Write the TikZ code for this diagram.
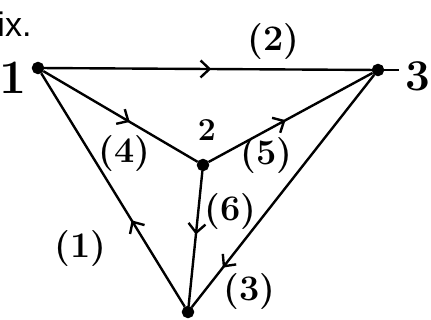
\documentclass[tikz,border=0pt]{standalone}
\usepackage{fontspec}
\newfontfamily\printfont{Liberation Sans}
\usetikzlibrary{arrows.meta,decorations.markings}

\begin{document}
\begin{tikzpicture}[x=1pt, y=-1pt, line width=2.4pt,
    main/.style = {draw, circle, fill, inner sep=0pt, minimum size=10pt},
    lbl/.style = {font=\bfseries\fontsize{36}{38}\selectfont, inner sep=1pt},
    mid/.style = {postaction={decorate}, decoration={markings,
        mark=at position #1 with {\arrow{Straight Barb[length=9pt, width=17pt]}}}}]

    \useasboundingbox (0,0) rectangle (431,320);

    \node[anchor=base east, font=\printfont\fontsize{34}{36}\selectfont] (title) at (36,37) {ix.};

    \node[main] (1) at (38,68) {};
    \node[main] (2) at (203,165) {};
    \node[main] (3) at (378,70) {};
    \node[main] (4) at (188,312) {};
    \coordinate (t3) at (399,70);

    \node[font=\bfseries\fontsize{48}{50}\selectfont] (l1) at (13,78) {1};
    \node[font=\bfseries\fontsize{44}{46}\selectfont] (l3) at (418,76) {3};
    \node[font=\bfseries\fontsize{32}{34}\selectfont] (l2) at (207,130) {2};

    \draw[mid=0.51] (1) -- node[lbl, pos=0.7, above=8pt] (e2) {(2)} (3);
    \draw (3) -- (t3);
    \draw[mid=0.56] (1) -- node[lbl, pos=0.55, below=12pt, xshift=-4pt] (e4) {(4)} (2);
    \draw[mid=0.47] (2) -- node[lbl, pos=0.34, below=4pt, xshift=2pt] (e5) {(5)} (3);
    \draw[mid=0.47] (2) -- node[lbl, pos=0.3, right=4pt] (e6) {(6)} (4);
    \draw[mid=0.83] (3) -- node[lbl, pos=0.88, right=8pt, yshift=-12pt] (e3) {(3)} (4);
    \draw[mid=0.37] (4) -- node[lbl, pos=0.25, left=40pt] (e1) {(1)} (1);

\end{tikzpicture}
\end{document}
